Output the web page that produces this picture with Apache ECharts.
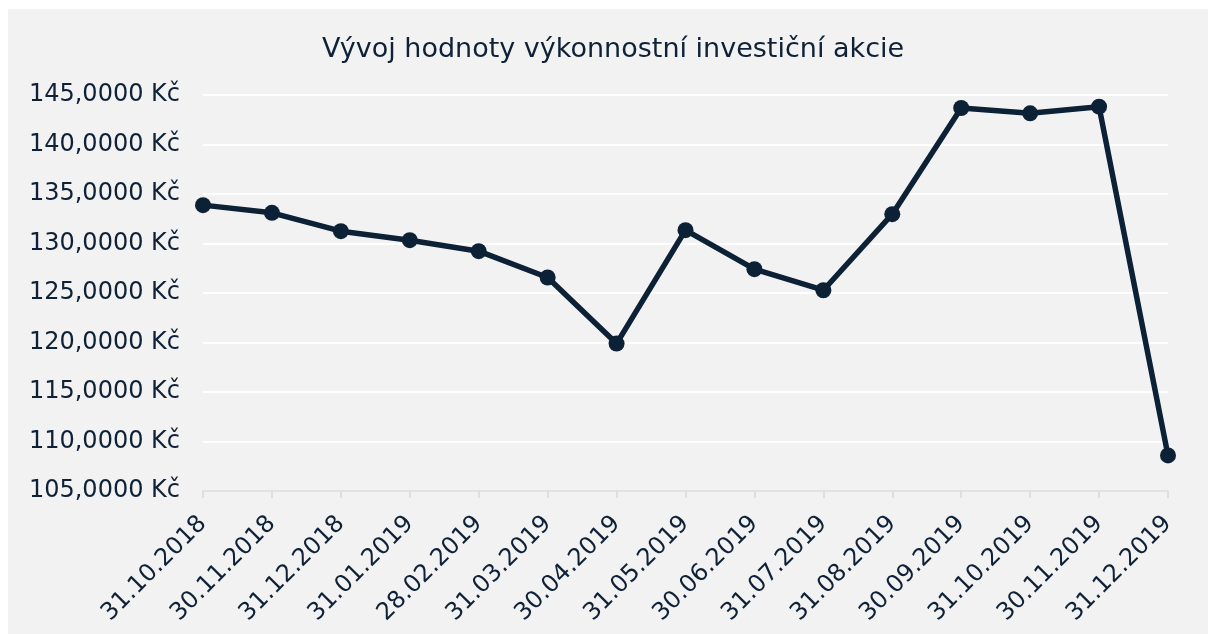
<!DOCTYPE html>
<html>
<head>
<meta charset="utf-8">
<script src="https://cdn.jsdelivr.net/npm/echarts@6/dist/echarts.min.js"></script>
<style>
  html, body { margin: 0; padding: 0; background: #ffffff; }
  #chart { position: absolute; left: 8px; top: 9px; width: 1200px; height: 625px; }
</style>
</head>
<body>
<div id="chart"></div>
<script>
const titleText = 'Vývoj hodnoty výkonnostní investiční akcie'
const dates = ['31.10.2018', '30.11.2018', '31.12.2018', '31.01.2019', '28.02.2019',
  '31.03.2019', '30.04.2019', '31.05.2019', '30.06.2019', '31.07.2019',
  '31.08.2019', '30.09.2019', '31.10.2019', '30.11.2019', '31.12.2019']
const values = [133.875, 133.100, 131.246, 130.336, 129.223,
  126.564, 119.889, 131.347, 127.403, 125.279,
  132.965, 143.685, 143.149, 143.817, 108.592]
const yMin = 105
const yMax = 145
const yStep = 5

const textColor = '#0e2136'
const lineColor = '#0c2136'
const font = 'DejaVu Sans, Verdana, sans-serif'

const myChart = echarts.init(document.getElementById('chart'))
myChart.setOption({
  backgroundColor: '#f2f2f2',
  animation: false,
  title: {
    text: titleText,
    left: 309,
    top: 22,
    textStyle: {
      color: textColor,
      fontFamily: font,
      fontSize: 27,
      fontWeight: 'normal'
    }
  },
  grid: {
    left: 195,
    right: 40,
    top: 86,
    bottom: 143
  },
  xAxis: {
    type: 'category',
    data: dates,
    boundaryGap: false,
    axisLine: { lineStyle: { color: '#d9d9d9', width: 1.5 } },
    axisTick: { show: true, length: 7, lineStyle: { color: '#d9d9d9', width: 1.5 } },
    axisLabel: {
      rotate: 45,
      interval: 0,
      margin: 29,
      color: textColor,
      fontFamily: font,
      fontSize: 24
    }
  },
  yAxis: {
    type: 'value',
    min: yMin,
    max: yMax,
    interval: yStep,
    axisLine: { show: false },
    axisTick: { show: false },
    splitLine: { lineStyle: { color: '#ffffff', width: 2 } },
    axisLabel: {
      margin: 23,
      color: textColor,
      fontFamily: font,
      fontSize: 24,
      formatter: function (v) {
        return v.toFixed(4).replace('.', ',') + ' Kč'
      }
    }
  },
  series: [{
    type: 'line',
    data: values,
    symbol: 'circle',
    symbolSize: 16,
    lineStyle: { color: lineColor, width: 5.5 },
    itemStyle: { color: lineColor }
  }]
})
</script>
</body>
</html>
